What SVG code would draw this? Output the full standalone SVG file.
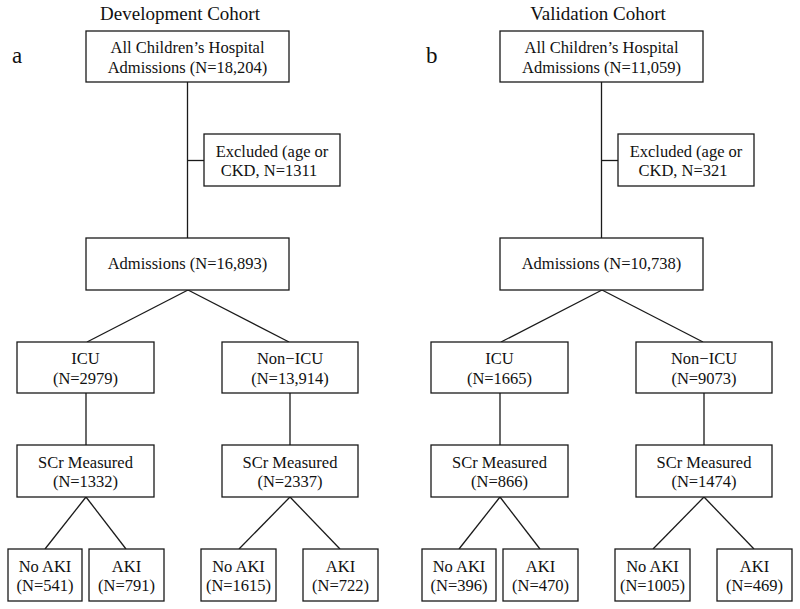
<svg xmlns="http://www.w3.org/2000/svg" width="800" height="609" viewBox="0 0 800 609">
<style>
.box{fill:#fff;stroke:#1a1a1a;stroke-width:1.3}
.t{font-family:"Liberation Serif","Times New Roman",serif;font-size:16.5px;fill:#111;text-anchor:middle}
.title{font-family:"Liberation Serif","Times New Roman",serif;font-size:19px;fill:#111;text-anchor:middle}
.lbl{font-family:"Liberation Serif","Times New Roman",serif;font-size:23px;fill:#111}
.conn line{stroke:#1a1a1a;stroke-width:1.3}
</style>
<rect width="800" height="609" fill="#fff"/>

<!-- Panel a -->
<g id="panel-a">
<text class="title" x="180" y="20">Development Cohort</text>
<text class="lbl" x="12" y="63">a</text>
<g class="conn" id="connectors-a">
<line x1="187.5" y1="82" x2="187.5" y2="238"/>
<line x1="187.5" y1="160.5" x2="204" y2="160.5"/>
<line x1="188" y1="290" x2="87" y2="342"/>
<line x1="188" y1="290" x2="289" y2="342"/>
<line x1="86" y1="393" x2="86" y2="445"/>
<line x1="290" y1="393" x2="290" y2="445"/>
<line x1="86" y1="497" x2="45" y2="549"/>
<line x1="86" y1="497" x2="126" y2="549"/>
<line x1="290" y1="497" x2="239" y2="549"/>
<line x1="290" y1="497" x2="340" y2="549"/>
</g>
<g id="a-all"><rect class="box" x="86" y="31" width="203" height="51"/><text class="t" x="187.5" y="53">All Children’s Hospital</text><text class="t" x="187.5" y="73">Admissions (N=18,204)</text></g>
<g id="a-excl"><rect class="box" x="204" y="134" width="136" height="52"/><text class="t" x="272" y="157">Excluded (age or</text><text class="t" x="269" y="176">CKD, N=1311</text></g>
<g id="a-adm"><rect class="box" x="86" y="238" width="203" height="52"/><text class="t" x="187.5" y="269">Admissions (N=16,893)</text></g>
<g id="a-icu"><rect class="box" x="17" y="342" width="137" height="51"/><text class="t" x="85.5" y="364">ICU</text><text class="t" x="85.5" y="384">(N=2979)</text></g>
<g id="a-nonicu"><rect class="box" x="222" y="342" width="136" height="51"/><text class="t" x="290" y="364">Non−ICU</text><text class="t" x="290" y="384">(N=13,914)</text></g>
<g id="a-scr1"><rect class="box" x="17" y="445" width="137" height="52"/><text class="t" x="85.5" y="467.5">SCr Measured</text><text class="t" x="85.5" y="487">(N=1332)</text></g>
<g id="a-scr2"><rect class="box" x="222" y="445" width="136" height="52"/><text class="t" x="290" y="467.5">SCr Measured</text><text class="t" x="290" y="487">(N=2337)</text></g>
<g id="a-noaki1"><rect class="box" x="8" y="549" width="74" height="52"/><text class="t" x="45" y="571.5">No AKI</text><text class="t" x="45" y="591">(N=541)</text></g>
<g id="a-aki1"><rect class="box" x="89" y="549" width="75" height="52"/><text class="t" x="126.5" y="571.5">AKI</text><text class="t" x="126.5" y="591">(N=791)</text></g>
<g id="a-noaki2"><rect class="box" x="201" y="549" width="75" height="52"/><text class="t" x="238.5" y="571.5">No AKI</text><text class="t" x="238.5" y="591">(N=1615)</text></g>
<g id="a-aki2"><rect class="box" x="303" y="549" width="75" height="52"/><text class="t" x="340.5" y="571.5">AKI</text><text class="t" x="340.5" y="591">(N=722)</text></g>
</g>

<!-- Panel b -->
<g id="panel-b">
<text class="title" x="598" y="20">Validation Cohort</text>
<text class="lbl" x="426" y="63">b</text>
<g transform="translate(414,0)">
<g class="conn" id="connectors-b">
<line x1="187.5" y1="82" x2="187.5" y2="238"/>
<line x1="187.5" y1="160.5" x2="204" y2="160.5"/>
<line x1="188" y1="290" x2="87" y2="342"/>
<line x1="188" y1="290" x2="289" y2="342"/>
<line x1="86" y1="393" x2="86" y2="445"/>
<line x1="290" y1="393" x2="290" y2="445"/>
<line x1="86" y1="497" x2="45" y2="549"/>
<line x1="86" y1="497" x2="126" y2="549"/>
<line x1="290" y1="497" x2="239" y2="549"/>
<line x1="290" y1="497" x2="340" y2="549"/>
</g>
<g id="b-all"><rect class="box" x="86" y="31" width="203" height="51"/><text class="t" x="187.5" y="53">All Children’s Hospital</text><text class="t" x="187.5" y="73">Admissions (N=11,059)</text></g>
<g id="b-excl"><rect class="box" x="204" y="134" width="136" height="52"/><text class="t" x="272" y="157">Excluded (age or</text><text class="t" x="269" y="176">CKD, N=321</text></g>
<g id="b-adm"><rect class="box" x="86" y="238" width="203" height="52"/><text class="t" x="187.5" y="269">Admissions (N=10,738)</text></g>
<g id="b-icu"><rect class="box" x="17" y="342" width="137" height="51"/><text class="t" x="85.5" y="364">ICU</text><text class="t" x="85.5" y="384">(N=1665)</text></g>
<g id="b-nonicu"><rect class="box" x="222" y="342" width="136" height="51"/><text class="t" x="290" y="364">Non−ICU</text><text class="t" x="290" y="384">(N=9073)</text></g>
<g id="b-scr1"><rect class="box" x="17" y="445" width="137" height="52"/><text class="t" x="85.5" y="467.5">SCr Measured</text><text class="t" x="85.5" y="487">(N=866)</text></g>
<g id="b-scr2"><rect class="box" x="222" y="445" width="136" height="52"/><text class="t" x="290" y="467.5">SCr Measured</text><text class="t" x="290" y="487">(N=1474)</text></g>
<g id="b-noaki1"><rect class="box" x="8" y="549" width="74" height="52"/><text class="t" x="45" y="571.5">No AKI</text><text class="t" x="45" y="591">(N=396)</text></g>
<g id="b-aki1"><rect class="box" x="89" y="549" width="75" height="52"/><text class="t" x="126.5" y="571.5">AKI</text><text class="t" x="126.5" y="591">(N=470)</text></g>
<g id="b-noaki2"><rect class="box" x="201" y="549" width="75" height="52"/><text class="t" x="238.5" y="571.5">No AKI</text><text class="t" x="238.5" y="591">(N=1005)</text></g>
<g id="b-aki2"><rect class="box" x="303" y="549" width="75" height="52"/><text class="t" x="340.5" y="571.5">AKI</text><text class="t" x="340.5" y="591">(N=469)</text></g>
</g>
</g>
</svg>
